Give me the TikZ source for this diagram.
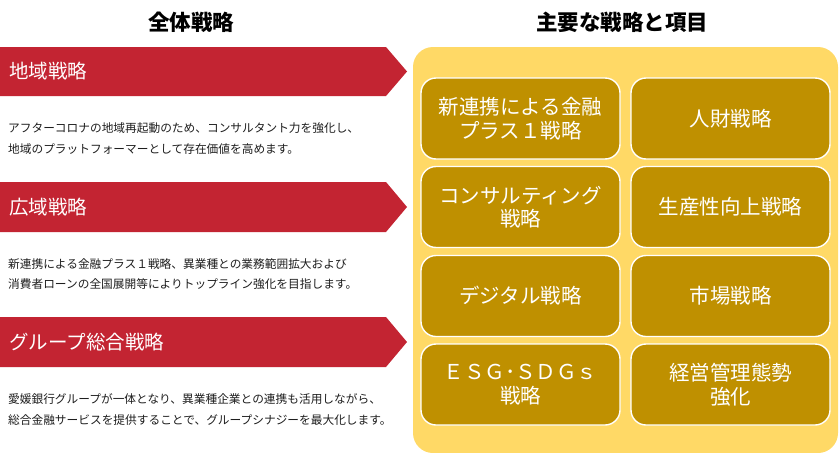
\documentclass[tikz,border=0pt]{standalone}
\usepackage{fontspec}
\setmainfont{Noto Sans CJK JP}
\definecolor{bannerred}{HTML}{C32432}
\definecolor{panelyellow}{HTML}{FFD966}
\definecolor{boxgold}{HTML}{BF9000}
\definecolor{txtdark}{HTML}{1E1E1E}
\begin{document}
\begin{tikzpicture}[x=1pt,y=-1pt,
  heading/.style={font=\fontsize{21.5}{24}\selectfont\bfseries, text=black, inner sep=0pt},
  bannertext/.style={anchor=west, font=\fontsize{19.5}{22}\selectfont, text=white, inner sep=0pt},
  desc/.style={anchor=north west, align=left, font=\fontsize{11.7}{20.5}\selectfont, text=txtdark, inner sep=0pt},
  itembox/.style={draw=white, line width=1.4pt, fill=boxgold, rounded corners=15pt,
    minimum width=199pt, minimum height=81pt, text=white, align=center,
    font=\fontsize{20.5}{23.5}\selectfont, inner sep=0pt}]
\useasboundingbox (0,0) rectangle (839,453);
\fill[white] (0,0) rectangle (839,453);
% headings
\node[heading] (h1) at (191,22) {全体戦略};
\node[heading] (h2) at (622,22) {主要な戦略と項目};
% panel
\fill[panelyellow, rounded corners=20pt] (413,47) rectangle (838,453);
% banners
\foreach \t/\b in {47/96, 182/232, 317/367}{
  \fill[bannerred] (0,\t) -- (386,\t) -- (407,{(\t+\b)/2}) -- (386,\b) -- (0,\b) -- cycle;
}
\node[bannertext] (b1) at (9,71.5) {地域戦略};
\node[bannertext] (b2) at (9,207) {広域戦略};
\node[bannertext] (b3) at (9,342) {グループ総合戦略};
% descriptions
\node[desc] (d1) at (8,122.5) {アフターコロナの地域再起動のため、コンサルタント力を強化し、\\地域のプラットフォーマーとして存在価値を高めます。};
\node[desc] (d2) at (8,258) {新連携による金融プラス１戦略、異業種との業務範囲拡大および\\消費者ローンの全国展開等によりトップライン強化を目指します。};
\node[desc] (d3) at (8,393.5) {愛媛銀行グループが一体となり、異業種企業との連携も活用しながら、\\総合金融サービスを提供することで、グループシナジーを最大化します。};
% item boxes
\node[itembox] (i1) at (520.5,118.5) {新連携による金融\\プラス１戦略};
\node[itembox] (i2) at (730.5,118.5) {人財戦略};
\node[itembox] (i3) at (520.5,207) {コンサルティング\\戦略};
\node[itembox] (i4) at (730.5,207) {生産性向上戦略};
\node[itembox] (i5) at (520.5,296) {デジタル戦略};
\node[itembox] (i6) at (730.5,296) {市場戦略};
\node[itembox] (i7) at (520.5,384.5) {ＥＳＧ･ＳＤＧｓ\\戦略};
\node[itembox] (i8) at (730.5,384.5) {経営管理態勢\\強化};
\end{tikzpicture}
\end{document}
